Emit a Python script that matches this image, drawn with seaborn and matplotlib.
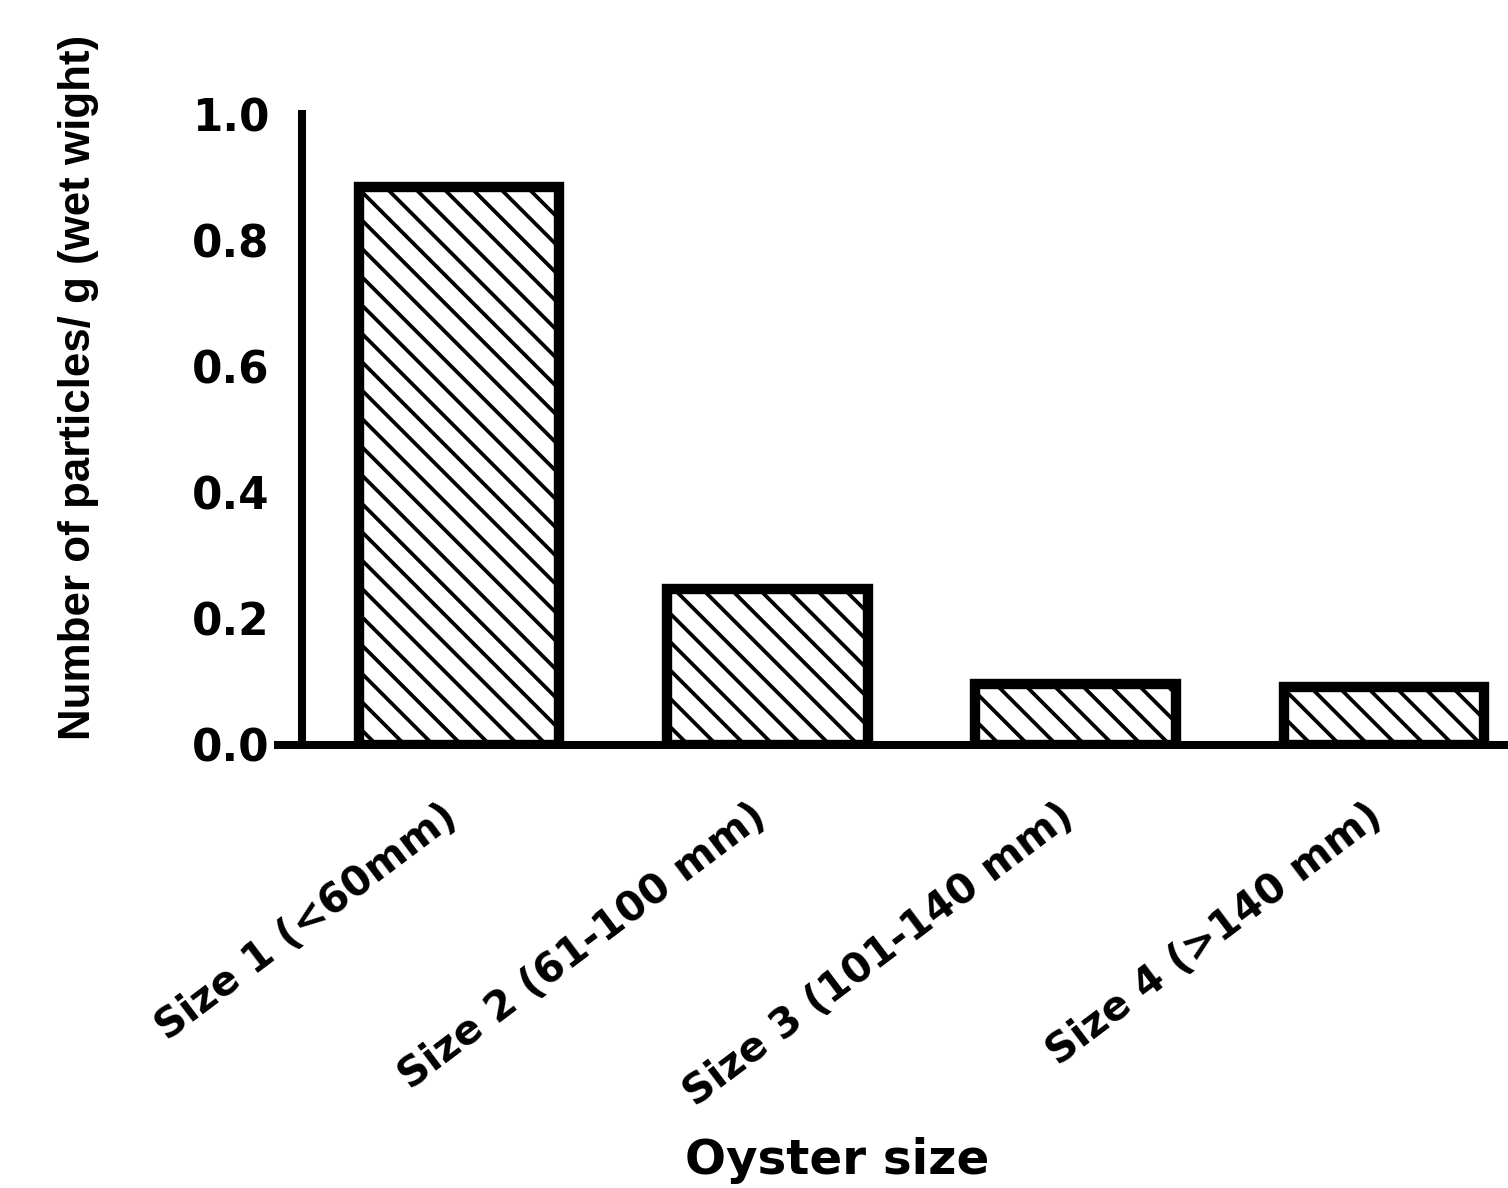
import matplotlib
matplotlib.use("Agg")
import matplotlib.pyplot as plt
from matplotlib.transforms import ScaledTranslation
import seaborn as sns
import pandas as pd

# Microplastic load per oyster size class
categories = ["Size 1 (<60mm)", "Size 2 (61-100 mm)", "Size 3 (101-140 mm)", "Size 4 (>140 mm)"]
particles_per_g = [0.885, 0.248, 0.097, 0.092]
y_ticks = [0.0, 0.2, 0.4, 0.6, 0.8, 1.0]
y_tick_labels = ["0.0", "0.2", "0.4", "0.6", "0.8", "1.0"]

df = pd.DataFrame({"size": categories, "value": particles_per_g})

sns.set_theme(style="white")
plt.rcParams["font.family"] = ["DejaVu Sans"]
plt.rcParams["font.weight"] = "bold"
plt.rcParams["hatch.linewidth"] = 1.6
plt.rcParams["hatch.color"] = "black"

DPI = 170
fig = plt.figure(figsize=(1508 / DPI, 1188 / DPI), dpi=DPI)
ax = fig.add_axes([0.18435, 0.37290, 0.81565, 0.53114])

sns.barplot(data=df, x="size", y="value", color="white", saturation=1,
            edgecolor="black", linewidth=4.4, width=0.65, ax=ax, zorder=2)
for bar in ax.patches:
    bar.set_hatch("\\\\")
    bar.set_facecolor("white")
    bar.set_edgecolor("black")

ax.set_xlim(-0.587, 3.402)
ax.set_ylim(0, 1.0)
ax.set_yticks(y_ticks)
ax.set_yticklabels(y_tick_labels)

# Prism-style axes: y-axis offset to the right of the x-axis start
for side in ("top", "right"):
    ax.spines[side].set_visible(False)
ax.spines["left"].set_position(("data", -0.509))
for side in ("left", "bottom"):
    ax.spines[side].set_linewidth(3.4)
    ax.spines[side].set_color("black")
    ax.spines[side].set_zorder(3)

ax.tick_params(axis="both", direction="out", length=9.7, width=3.4,
               color="black", labelcolor="black")
ax.tick_params(axis="y", pad=4, labelsize=18.5)
ax.tick_params(axis="x", pad=12, labelsize=17.3)
plt.setp(ax.get_yticklabels(), fontweight="bold")
plt.setp(ax.get_xticklabels(), rotation=37, ha="right", va="top",
         fontweight="bold")
# nudge the rotated category labels so their ends sit over the ticks
shift = ScaledTranslation(6 / DPI, 0, fig.dpi_scale_trans)
for lbl in ax.get_xticklabels():
    lbl.set_transform(lbl.get_transform() + shift)

ax.set_xlabel("Oyster size", fontsize=20.5, fontweight="bold", color="black")
ax.xaxis.set_label_coords(0.4545, -0.658)
ax.xaxis.label.set_va("center")

ax.set_ylabel("Number of particles/ g (wet wight)", fontsize=18.6,
              fontweight="bold", color="black",
              family=["Liberation Sans", "DejaVu Sans"])
ax.yaxis.set_label_coords(-0.1626, 0.566)
ax.yaxis.label.set_va("center")

fig.savefig("out.png", dpi=DPI, facecolor="white")
